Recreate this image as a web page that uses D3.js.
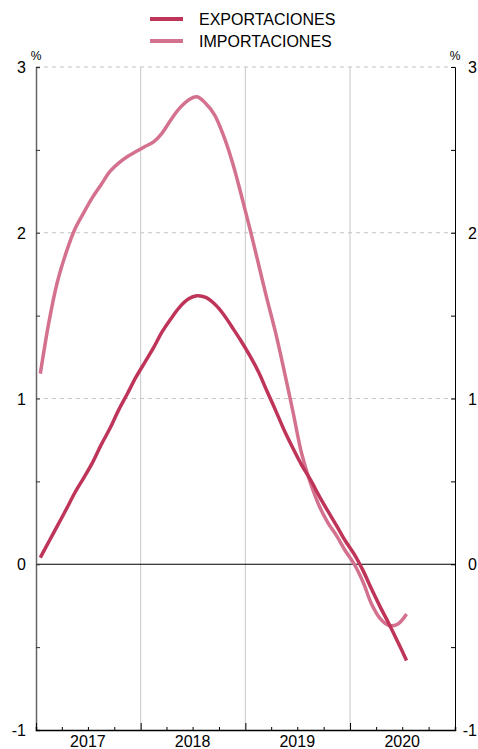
<!DOCTYPE html>
<html lang="es">
  <head>
    <meta charset="utf-8">
    <title>Exportaciones e importaciones</title>
    <style>
        body { margin: 0; background: #fff; }
        svg { display: block; font-family: "Liberation Sans", Arial, sans-serif; }
    </style>
    <script src="https://d3js.org/d3.v7.min.js"></script>
  </head>
  <body>
    <script>

    // monthly observations, Jan 2017 .. Jul 2020
    const months = [
        "2017-01","2017-02","2017-03","2017-04","2017-05","2017-06","2017-07","2017-08","2017-09","2017-10","2017-11","2017-12",
        "2018-01","2018-02","2018-03","2018-04","2018-05","2018-06","2018-07","2018-08","2018-09","2018-10","2018-11","2018-12",
        "2019-01","2019-02","2019-03","2019-04","2019-05","2019-06","2019-07","2019-08","2019-09","2019-10","2019-11","2019-12",
        "2020-01","2020-02","2020-03","2020-04","2020-05","2020-06","2020-07"
    ];

    const exportaciones = [
        0.04, 0.14, 0.23, 0.33, 0.43, 0.52, 0.61, 0.72, 0.82, 0.93, 1.03, 1.13,
        1.22, 1.31, 1.40, 1.48, 1.55, 1.60, 1.62, 1.61, 1.57, 1.51, 1.43, 1.35,
        1.26, 1.16, 1.05, 0.93, 0.81, 0.70, 0.60, 0.51, 0.41, 0.32, 0.23, 0.14,
        0.06, -0.04, -0.15, -0.26, -0.36, -0.47, -0.58
    ];

    const importaciones = [
        1.15, 1.47, 1.70, 1.88, 2.02, 2.12, 2.21, 2.29, 2.37, 2.42, 2.46, 2.49,
        2.52, 2.55, 2.60, 2.68, 2.75, 2.80, 2.82, 2.78, 2.71, 2.59, 2.43, 2.24,
        2.03, 1.81, 1.61, 1.40, 1.17, 0.92, 0.67, 0.49, 0.35, 0.25, 0.17, 0.08,
        0.00, -0.11, -0.24, -0.33, -0.37, -0.36, -0.30
    ];

    const years = ["2017", "2018", "2019", "2020"];
    const yTicks = [-1, 0, 1, 2, 3];

    const seriesNames = ["EXPORTACIONES", "IMPORTACIONES"];
    const seriesColors = ["#bf3459", "#d3718e"];

    const W = 478, H = 749;
    const plot = { left: 36, right: 455, top: 67, bottom: 730 };

    const svg = d3.select("body")
        .append("svg")
        .attr("width", W)
        .attr("height", H);

    const parseMonth = d3.timeParse("%Y-%m");
    const midMonth = s => {
        const d = parseMonth(s);
        return new Date(d.getFullYear(), d.getMonth(), 16);
    };

    const x = d3.scaleTime()
        .domain([new Date(+years[0], 0, 1), new Date(+years[years.length - 1] + 1, 0, 1)])
        .range([plot.left, plot.right]);

    const y = d3.scaleLinear()
        .domain([-1, 3])
        .range([plot.bottom, plot.top]);

    const yearStarts = years.map(d => new Date(+d, 0, 1));
    const quarters = d3.timeMonth.every(3).range(x.domain()[0], x.domain()[1]);
    const halfTicks = d3.range(-1, 3.01, 0.5);

    // horizontal dashed grid
    svg.append("g")
        .selectAll("line")
        .data(yTicks.filter(d => d > 0))
        .join("line")
        .attr("x1", plot.left).attr("x2", plot.right)
        .attr("y1", d => y(d)).attr("y2", d => y(d))
        .attr("stroke", "#c4c4c4")
        .attr("stroke-dasharray", "4,4");

    // vertical grid at year boundaries
    svg.append("g")
        .selectAll("line")
        .data(yearStarts.slice(1))
        .join("line")
        .attr("x1", d => x(d)).attr("x2", d => x(d))
        .attr("y1", plot.top).attr("y2", plot.bottom)
        .attr("stroke", "#c8c8c8");

    // zero line
    svg.append("line")
        .attr("x1", plot.left).attr("x2", plot.right)
        .attr("y1", y(0)).attr("y2", y(0))
        .attr("stroke", "#000")
        .attr("stroke-width", 1);

    // left axis
    const yLeft = svg.append("g")
        .attr("transform", `translate(${plot.left},0)`)
        .call(d3.axisRight(y).tickValues(halfTicks).tickSize(4).tickFormat(""));
    yLeft.select(".domain").attr("stroke", "#666").attr("stroke-width", 1.5);
    yLeft.selectAll(".tick line").attr("stroke", "#333");

    svg.append("g")
        .selectAll("text")
        .data(yTicks)
        .join("text")
        .attr("x", 26)
        .attr("y", d => y(d) + 6)
        .attr("text-anchor", "end")
        .style("font-size", "16px")
        .text(d => d);

    // right axis
    const yRight = svg.append("g")
        .attr("transform", `translate(${plot.right},0)`)
        .call(d3.axisLeft(y).tickValues(halfTicks).tickSize(4).tickFormat(""));
    yRight.select(".domain").attr("stroke", "#000");

    svg.append("g")
        .selectAll("text")
        .data(yTicks)
        .join("text")
        .attr("x", 477)
        .attr("y", d => y(d) + 6)
        .attr("text-anchor", "end")
        .style("font-size", "16px")
        .text(d => d);

    svg.append("text").attr("x", 36).attr("y", 60).attr("text-anchor", "middle")
        .style("font-size", "12px").text("%");
    svg.append("text").attr("x", 455).attr("y", 60).attr("text-anchor", "middle")
        .style("font-size", "12px").text("%");

    // bottom axis
    const xAxis = svg.append("g")
        .attr("transform", `translate(0,${plot.bottom})`)
        .call(d3.axisTop(x).tickValues(quarters).tickSize(3).tickFormat(""));
    xAxis.select(".domain").attr("stroke", "#000").attr("stroke-width", 1.5);
    xAxis.selectAll(".tick line")
        .attr("y2", d => d.getMonth() === 0 ? -7 : -3)
        .attr("stroke", "#000");

    svg.append("g")
        .selectAll("text")
        .data(years)
        .join("text")
        .attr("x", d => x(new Date(+d, 6, 1)))
        .attr("y", 747)
        .attr("text-anchor", "middle")
        .style("font-size", "16px")
        .text(d => d);

    // lines
    const line = d3.line()
        .x((d, i) => x(midMonth(months[i])))
        .y(d => y(d))
        .curve(d3.curveCatmullRom.alpha(0.5));

    [importaciones, exportaciones].forEach((s, k) => {
        svg.append("path")
            .datum(s)
            .attr("fill", "none")
            .attr("stroke", seriesColors[1 - k])
            .attr("stroke-width", 3.5)
            .attr("stroke-linejoin", "round")
            .attr("d", line);
    });

    // legend
    const legend = svg.append("g");
    seriesNames.forEach((name, i) => {
        const ly = 19 + i * 22;
        legend.append("line")
            .attr("x1", 150).attr("x2", 183)
            .attr("y1", ly).attr("y2", ly)
            .attr("stroke", seriesColors[i])
            .attr("stroke-width", 4);
        legend.append("text")
            .attr("x", 199)
            .attr("y", ly + 6)
            .style("font-size", "16px")
            .text(name);
    });

    </script>
  </body>
</html>
